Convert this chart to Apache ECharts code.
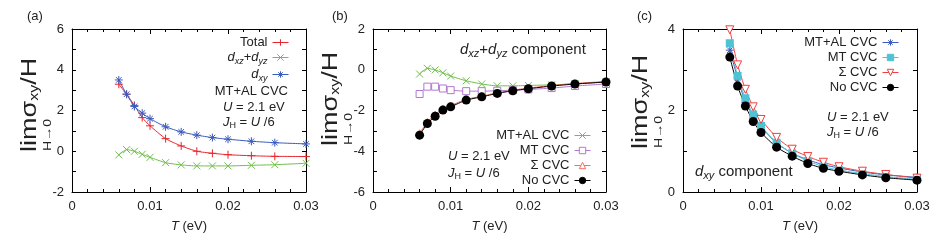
<!DOCTYPE html>
<html><head><meta charset="utf-8">
<script src="https://cdn.jsdelivr.net/npm/echarts@6/dist/echarts.min.js"></script>
<style>html,body{margin:0;padding:0;background:#fff}#c{width:948px;height:240px}</style>
</head><body><div id="c"></div>
<script>
// ---------------- data ----------------
const T = [0.006, 0.007, 0.008, 0.009, 0.010, 0.012, 0.014, 0.016, 0.018, 0.020, 0.023, 0.026, 0.030];
// panel (a): MT+AL CVC
const aTotal  = [3.29, 2.80, 2.25, 1.65, 1.25, 0.62, 0.26, 0.00, -0.10, -0.17, -0.22, -0.25, -0.26];
const aDxzDyz = [-0.18, 0.08, 0.00, -0.15, -0.30, -0.56, -0.67, -0.72, -0.72, -0.72, -0.69, -0.66, -0.59];
const aDxy    = [3.50, 2.80, 2.20, 1.87, 1.60, 1.20, 0.95, 0.79, 0.67, 0.59, 0.49, 0.42, 0.36];
// panel (b): dxz+dyz component
const bMtAl   = [-0.21, 0.07, -0.01, -0.15, -0.31, -0.54, -0.70, -0.79, -0.79, -0.77, -0.74, -0.70, -0.60];
const bMt     = [-1.19, -0.83, -0.83, -0.92, -1.00, -1.05, -1.05, -1.03, -1.00, -0.97, -0.90, -0.80, -0.70];
const bSigma  = [-3.12, -2.56, -2.20, -1.92, -1.76, -1.45, -1.30, -1.13, -1.00, -0.90, -0.77, -0.67, -0.58];
const bNoCvc  = [-3.21, -2.64, -2.28, -1.98, -1.82, -1.49, -1.33, -1.16, -1.03, -0.93, -0.80, -0.70, -0.60];
// panel (c): dxy component
const cMtAl   = [3.48, 2.80, 2.20, 1.87, 1.60, 1.20, 0.95, 0.79, 0.67, 0.59, 0.49, 0.42, 0.36];
const cMt     = [3.65, 2.85, 2.30, 1.90, 1.62, 1.21, 0.95, 0.76, 0.62, 0.54, 0.45, 0.38, 0.31];
const cSigma  = [3.98, 3.12, 2.52, 2.09, 1.78, 1.34, 1.05, 0.87, 0.73, 0.62, 0.51, 0.43, 0.34];
const cNoCvc  = [3.31, 2.60, 2.11, 1.73, 1.46, 1.10, 0.88, 0.70, 0.58, 0.51, 0.42, 0.35, 0.29];
// axes
const xRange = [0, 0.03];
const xTickStep = 0.01;
const yRangeA = [-2, 6];
const yRangeB = [-6, 2];
const yRangeC = [0, 4];
const yLabelStep = 2;

// ---------------- style ----------------
const FF = "'Liberation Sans', Arial, sans-serif";
const TXT = '#222';
const rich = {
  n:  {fontSize: 13, fontFamily: FF, color: TXT, lineHeight: 15},
  i:  {fontSize: 13, fontFamily: FF, color: TXT, fontStyle: 'italic', lineHeight: 15},
  s:  {fontSize: 9, fontFamily: FF, color: TXT, lineHeight: 8, padding: [8, 0, 0, 0]},
  si: {fontSize: 9, fontFamily: FF, color: TXT, fontStyle: 'italic', lineHeight: 8, padding: [8, 0, 0, 0]},
  b:  {fontSize: 15, fontFamily: FF, color: TXT, lineHeight: 17},
  bi: {fontSize: 15, fontFamily: FF, color: TXT, fontStyle: 'italic', lineHeight: 17},
  bsi:{fontSize: 11, fontFamily: FF, color: TXT, fontStyle: 'italic', lineHeight: 8, padding: [8, 0, 0, 0]},
  L:  {fontSize: 27, fontFamily: FF, color: TXT, lineHeight: 30},
  LS: {fontSize: 16, fontFamily: FF, color: TXT, lineHeight: 10, padding: [12, 0, 0, 0]}
};

const PLUS  = 'path://M0,5L10,5M5,0L5,10';
const CROSS = 'path://M1,1L9,9M9,1L1,9';
const STAR  = 'path://M0,5L10,5M5,0L5,10M1.5,1.5L8.5,8.5M8.5,1.5L1.5,8.5';
const SQUARE = 'path://M0,0L10,0L10,10L0,10Z';
const TRI_UP = 'path://M5,0L10,8.66L0,8.66Z';
const TRI_DN = 'path://M0,0L10,0L5,8.66Z';

const grids = [
  {left: 72,  right: 642, top: 29, bottom: 48},
  {left: 373, right: 342, top: 29, bottom: 48},
  {left: 683, right: 31,  top: 29, bottom: 48}
];
const yRanges = [yRangeA, yRangeB, yRangeC];

const xAxes = [], yAxes = [];
grids.forEach((g, gi) => {
  const tick = {show: true, inside: true, length: 5, lineStyle: {color: '#000', width: 1}};
  const minor = {show: true, splitNumber: 5, length: 3, lineStyle: {color: '#000', width: 1}};
  const line = {show: true, onZero: false, lineStyle: {color: '#000', width: 1}};
  xAxes.push({
    type: 'value', gridIndex: gi, position: 'bottom', min: xRange[0], max: xRange[1], interval: xTickStep,
    axisLine: line, axisTick: tick, minorTick: minor, splitLine: {show: false},
    axisLabel: {color: TXT, fontSize: 13, fontFamily: FF, margin: 8,
      formatter: v => v === 0 ? '0' : v.toFixed(2)},
    name: '{i|T}{n| (eV)}', nameLocation: 'middle', nameGap: 27,
    nameTextStyle: {rich: rich}
  });
  xAxes.push({
    type: 'value', gridIndex: gi, position: 'top', min: xRange[0], max: xRange[1], interval: xTickStep,
    axisLine: line, axisTick: tick, minorTick: minor, splitLine: {show: false}, axisLabel: {show: false}
  });
  const yr = yRanges[gi];
  const ytick = {show: true, inside: true, length: 4, lineStyle: {color: '#000', width: 1}};
  yAxes.push({
    type: 'value', gridIndex: gi, position: 'left', min: yr[0], max: yr[1], interval: 1,
    axisLine: line, axisTick: ytick, splitLine: {show: false},
    axisLabel: {color: TXT, fontSize: 13, fontFamily: FF, margin: 8,
      formatter: v => (Math.round(v) % yLabelStep === 0 ? String(v) : '')}
  });
  yAxes.push({
    type: 'value', gridIndex: gi, position: 'right', min: yr[0], max: yr[1], interval: 1,
    axisLine: line, axisTick: ytick, splitLine: {show: false}, axisLabel: {show: false}
  });
});

function mk(name, gi, ys, color, symbol, size, fill, sw) {
  return {
    name: name, type: 'line', xAxisIndex: 2 * gi, yAxisIndex: 2 * gi,
    data: T.map((t, k) => [t, ys[k]]),
    symbol: symbol, symbolSize: size, showSymbol: true, smooth: 0.2,
    lineStyle: {color: color, width: 1},
    itemStyle: {color: fill || color, borderColor: color, borderWidth: sw === undefined ? 1 : sw, opacity: 1},
    emphasis: {disabled: true}, animation: false, clip: true
  };
}

const RED = '#e8262e', GREEN = '#6fc04b', BLUE = '#3a5bbf', PURPLE = '#b278d0',
      SALMON = '#f2705e', CYAN = '#4fc3d3', RED2 = '#f0403f', BLACK = '#000';

const series = [
  mk('a:Total', 0, aTotal, RED, PLUS, 8),
  mk('a:dxzdyz', 0, aDxzDyz, GREEN, CROSS, 7),
  mk('a:dxy', 0, aDxy, BLUE, STAR, 8),
  mk('b:mtal', 1, bMtAl, GREEN, CROSS, 7),
  mk('b:mt', 1, bMt, PURPLE, SQUARE, 7, '#fff'),
  mk('b:sigma', 1, bSigma, SALMON, TRI_UP, 7, '#fff'),
  mk('b:nocvc', 1, bNoCvc, BLACK, 'circle', 9, BLACK, 0),
  mk('c:mtal', 2, cMtAl, BLUE, STAR, 8),
  mk('c:mt', 2, cMt, CYAN, 'rect', 8, CYAN, 0),
  mk('c:sigma', 2, cSigma, RED2, TRI_DN, 8, '#fff'),
  mk('c:nocvc', 2, cNoCvc, BLACK, 'circle', 9, BLACK, 0)
];

const labelMap = {
  'a:Total': '{n|Total}',
  'a:dxzdyz': '{i|d}{si|xz}{n|+}{i|d}{si|yz}',
  'a:dxy': '{i|d}{si|xy}',
  'b:mtal': '{n|MT+AL CVC}', 'b:mt': '{n|MT CVC}', 'b:sigma': '{n|Σ CVC}', 'b:nocvc': '{n|No CVC}',
  'c:mtal': '{n|MT+AL CVC}', 'c:mt': '{n|MT CVC}', 'c:sigma': '{n|Σ CVC}', 'c:nocvc': '{n|No CVC}'
};
function legend(data, right, top, gap) {
  return {
    data: data, orient: 'vertical', align: 'right', right: right, top: top, padding: 0,
    itemGap: gap, itemWidth: 16, itemHeight: 8, selectedMode: false,
    formatter: n => labelMap[n],
    textStyle: {rich: rich, fontSize: 13, fontFamily: FF, color: TXT},
    itemStyle: {borderWidth: 1}, lineStyle: {width: 1}
  };
}

function txt(text, x, y, align) {
  return {type: 'text', x: x, y: y, silent: true,
    style: {text: text, rich: rich, fontSize: 13, fontFamily: FF, fill: TXT, align: align || 'left', verticalAlign: 'middle'}};
}
function yTitle(x, y) {
  return {type: 'group', x: x, y: y, rotation: Math.PI / 2, scaleY: 0.8, silent: true, children: [
    {type: 'text', x: 0, y: 0, style: {text: '{L|lim}{L|σ}{LS|xy}{L|/H}', rich: rich, align: 'left', verticalAlign: 'middle', fill: TXT}},
    {type: 'text', x: 17, y: 22, style: {text: 'H→0', fontSize: 14, fontFamily: FF, fill: TXT, align: 'center', verticalAlign: 'middle'}}
  ]};
}

const graphics = [
  txt('{n|(a)}', 27, 16), txt('{n|(b)}', 332, 16), txt('{n|(c)}', 637, 16),
  yTitle(30, 152), yTitle(331, 146), yTitle(641, 149),
  txt('{n|MT+AL CVC}', 288, 91, 'right'),
  txt('{i|U}{n| = 2.1 eV}', 223, 107),
  txt('{i|J}{s|H}{n| = }{i|U}{n| /6}', 223, 122),
  txt('{bi|d}{bsi|xz}{b|+}{bi|d}{bsi|yz}{b| component}', 460, 50),
  txt('{i|U}{n| = 2.1 eV}', 448, 156),
  txt('{i|J}{s|H}{n| = }{i|U}{n| /6}', 448, 173),
  txt('{i|U}{n| = 2.1 eV}', 827, 117),
  txt('{i|J}{s|H}{n| = }{i|U}{n| /6}', 827, 132),
  txt('{bi|d}{bsi|xy}{b| component}', 695, 172)
];

const chart = echarts.init(document.getElementById('c'), null, {renderer: 'canvas'});
chart.setOption({
  animation: false,
  backgroundColor: '#fff',
  grid: grids,
  xAxis: xAxes,
  yAxis: yAxes,
  legend: [
    legend(['a:Total', 'a:dxzdyz', 'a:dxy'], 659, 36, 0),
    legend(['b:mtal', 'b:mt', 'b:sigma', 'b:nocvc'], 357, 129, 2),
    legend(['c:mtal', 'c:mt', 'c:sigma', 'c:nocvc'], 49, 36, 2)
  ],
  series: series,
  graphic: graphics
});
</script></body></html>
